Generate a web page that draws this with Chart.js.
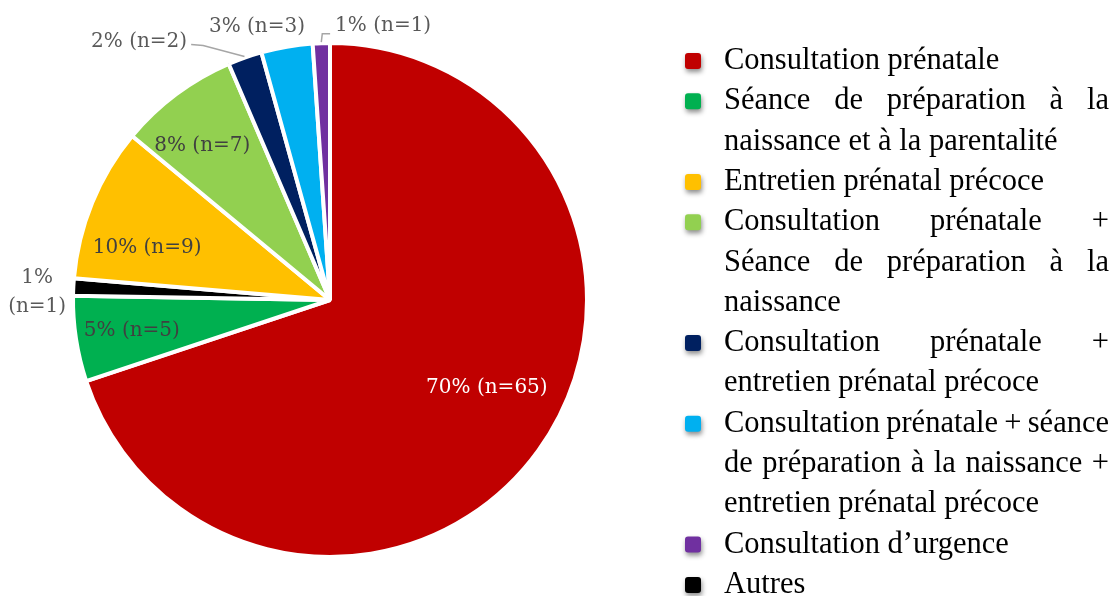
<!DOCTYPE html>
<html>
<head>
<meta charset="utf-8">
<script src="https://cdn.jsdelivr.net/npm/chart.js@4.4.0/dist/chart.umd.min.js"></script>
<style>
  body { margin: 0; background: #ffffff; }
</style>
</head>
<body>
<canvas id="pie" width="1115" height="596"></canvas>
<script>
// slices, in the order they are drawn (clockwise from 12 o'clock)
var categories = [
    ["Consultation prénatale"],
    ["Séance de préparation à la", "naissance et à la parentalité"],
    ["Autres"],
    ["Entretien prénatal précoce"],
    ["Consultation prénatale +", "Séance de préparation à la", "naissance"],
    ["Consultation prénatale +", "entretien prénatal précoce"],
    ["Consultation prénatale + séance", "de préparation à la naissance +", "entretien prénatal précoce"],
    ["Consultation d’urgence"]
];
var counts = [65, 5, 1, 9, 7, 2, 3, 1];
var colors = ["#C00000", "#00B050", "#000000", "#FFC000", "#92D050", "#002060", "#00B0F0", "#7030A0"];

// legend lists the slices in another order
var legendOrder = [0, 1, 3, 4, 5, 6, 7, 2];

// label placement: radius factor and angle shift (degrees) from the slice middle
var labelRadius = [0.70, 0.78, 1.14, 0.74, 0.78, 1.25, 1.10, 1.087];
var labelShift = [-6.5, 0, -1.3, -6.3, -2.8, -17.1, -5.3, 12.9];
var labelColor = ["#ffffff", "#404040", "#595959", "#404040", "#404040", "#595959", "#595959", "#595959"];

var total = counts.reduce(function (a, b) { return a + b; }, 0);

var sliceLabels = {
    id: 'sliceLabels',
    afterDatasetsDraw: function (chart) {
        var ctx = chart.ctx;
        var arcs = chart.getDatasetMeta(0).data;
        ctx.save();
        ctx.font = '20px "DejaVu Serif"';
        ctx.textAlign = 'center';
        ctx.textBaseline = 'middle';
        arcs.forEach(function (arc, i) {
            var p = arc.getProps(['x', 'y', 'startAngle', 'endAngle', 'outerRadius'], true);
            var mid = (p.startAngle + p.endAngle) / 2;
            var a = mid + labelShift[i] * Math.PI / 180;
            var r = p.outerRadius * labelRadius[i];
            var lx = p.x + Math.cos(a) * r;
            var ly = p.y + Math.sin(a) * r;
            var pct = Math.round(counts[i] / total * 100) + '%';
            var txt = pct + ' (n=' + counts[i] + ')';
            ctx.fillStyle = labelColor[i];
            if (i === 2) {
                ctx.fillText(pct, lx, ly - 14);
                ctx.fillText('(n=' + counts[i] + ')', lx, ly + 15);
            } else {
                ctx.fillText(txt, lx, ly);
            }
            // leader lines for the small outside labels
            var ex = p.x + Math.cos(mid) * (p.outerRadius + 1);
            var ey = p.y + Math.sin(mid) * (p.outerRadius + 1);
            var w = ctx.measureText(txt).width;
            ctx.strokeStyle = '#A6A6A6';
            ctx.lineWidth = 1.5;
            if (i === 5) {
                ctx.beginPath();
                ctx.moveTo(lx + w / 2 + 4, ly + 3);
                ctx.lineTo(lx + w / 2 + 16, ly + 4);
                ctx.lineTo(ex, ey);
                ctx.stroke();
            }
            if (i === 7) {
                ctx.beginPath();
                ctx.moveTo(ex, ey);
                ctx.lineTo(ex + 1, ly + 8);
                ctx.lineTo(lx - w / 2 - 5, ly + 8);
                ctx.stroke();
            }
        });
        ctx.restore();
    }
};

var sideLegend = {
    id: 'sideLegend',
    afterDraw: function (chart) {
        var ctx = chart.ctx;
        var meta = chart.getDatasetMeta(0);
        var textX = 724, rightX = 1109, markX = 685, size = 16;
        var base = 69, lineH = 40.3;
        var line = 0;
        ctx.save();
        ctx.font = '30.5px "Liberation Serif"';
        ctx.textBaseline = 'alphabetic';
        legendOrder.forEach(function (idx) {
            var lines = chart.data.labels[idx];
            var y0 = base + line * lineH;
            // marker with soft shadow
            ctx.save();
            ctx.shadowColor = 'rgba(0,0,0,0.45)';
            ctx.shadowBlur = 5;
            ctx.shadowOffsetX = 1;
            ctx.shadowOffsetY = 3;
            ctx.fillStyle = meta.controller.getDataset().backgroundColor[idx];
            ctx.beginPath();
            ctx.roundRect(markX, y0 - 16, size, size, 3);
            ctx.fill();
            ctx.restore();
            ctx.fillStyle = '#000000';
            lines.forEach(function (t, k) {
                var y = base + line * lineH;
                var last = k === lines.length - 1;
                if (last) {
                    ctx.fillText(t, textX, y);
                } else {
                    var words = t.split(' ');
                    var wsum = 0;
                    words.forEach(function (wd) { wsum += ctx.measureText(wd).width; });
                    var gap = (rightX - textX - wsum) / (words.length - 1);
                    var x = textX;
                    words.forEach(function (wd) {
                        ctx.fillText(wd, x, y);
                        x += ctx.measureText(wd).width + gap;
                    });
                }
                line++;
            });
        });
        ctx.restore();
    }
};

new Chart(document.getElementById('pie'), {
    type: 'pie',
    data: {
        labels: categories,
        datasets: [{
            data: counts,
            backgroundColor: colors,
            borderColor: '#ffffff',
            borderWidth: 4
        }]
    },
    options: {
        responsive: false,
        animation: false,
        layout: {
            padding: { left: 71, right: 526, top: 41, bottom: 37 }
        },
        plugins: {
            legend: { display: false },
            tooltip: { enabled: false }
        }
    },
    plugins: [sliceLabels, sideLegend]
});
</script>
</body>
</html>
